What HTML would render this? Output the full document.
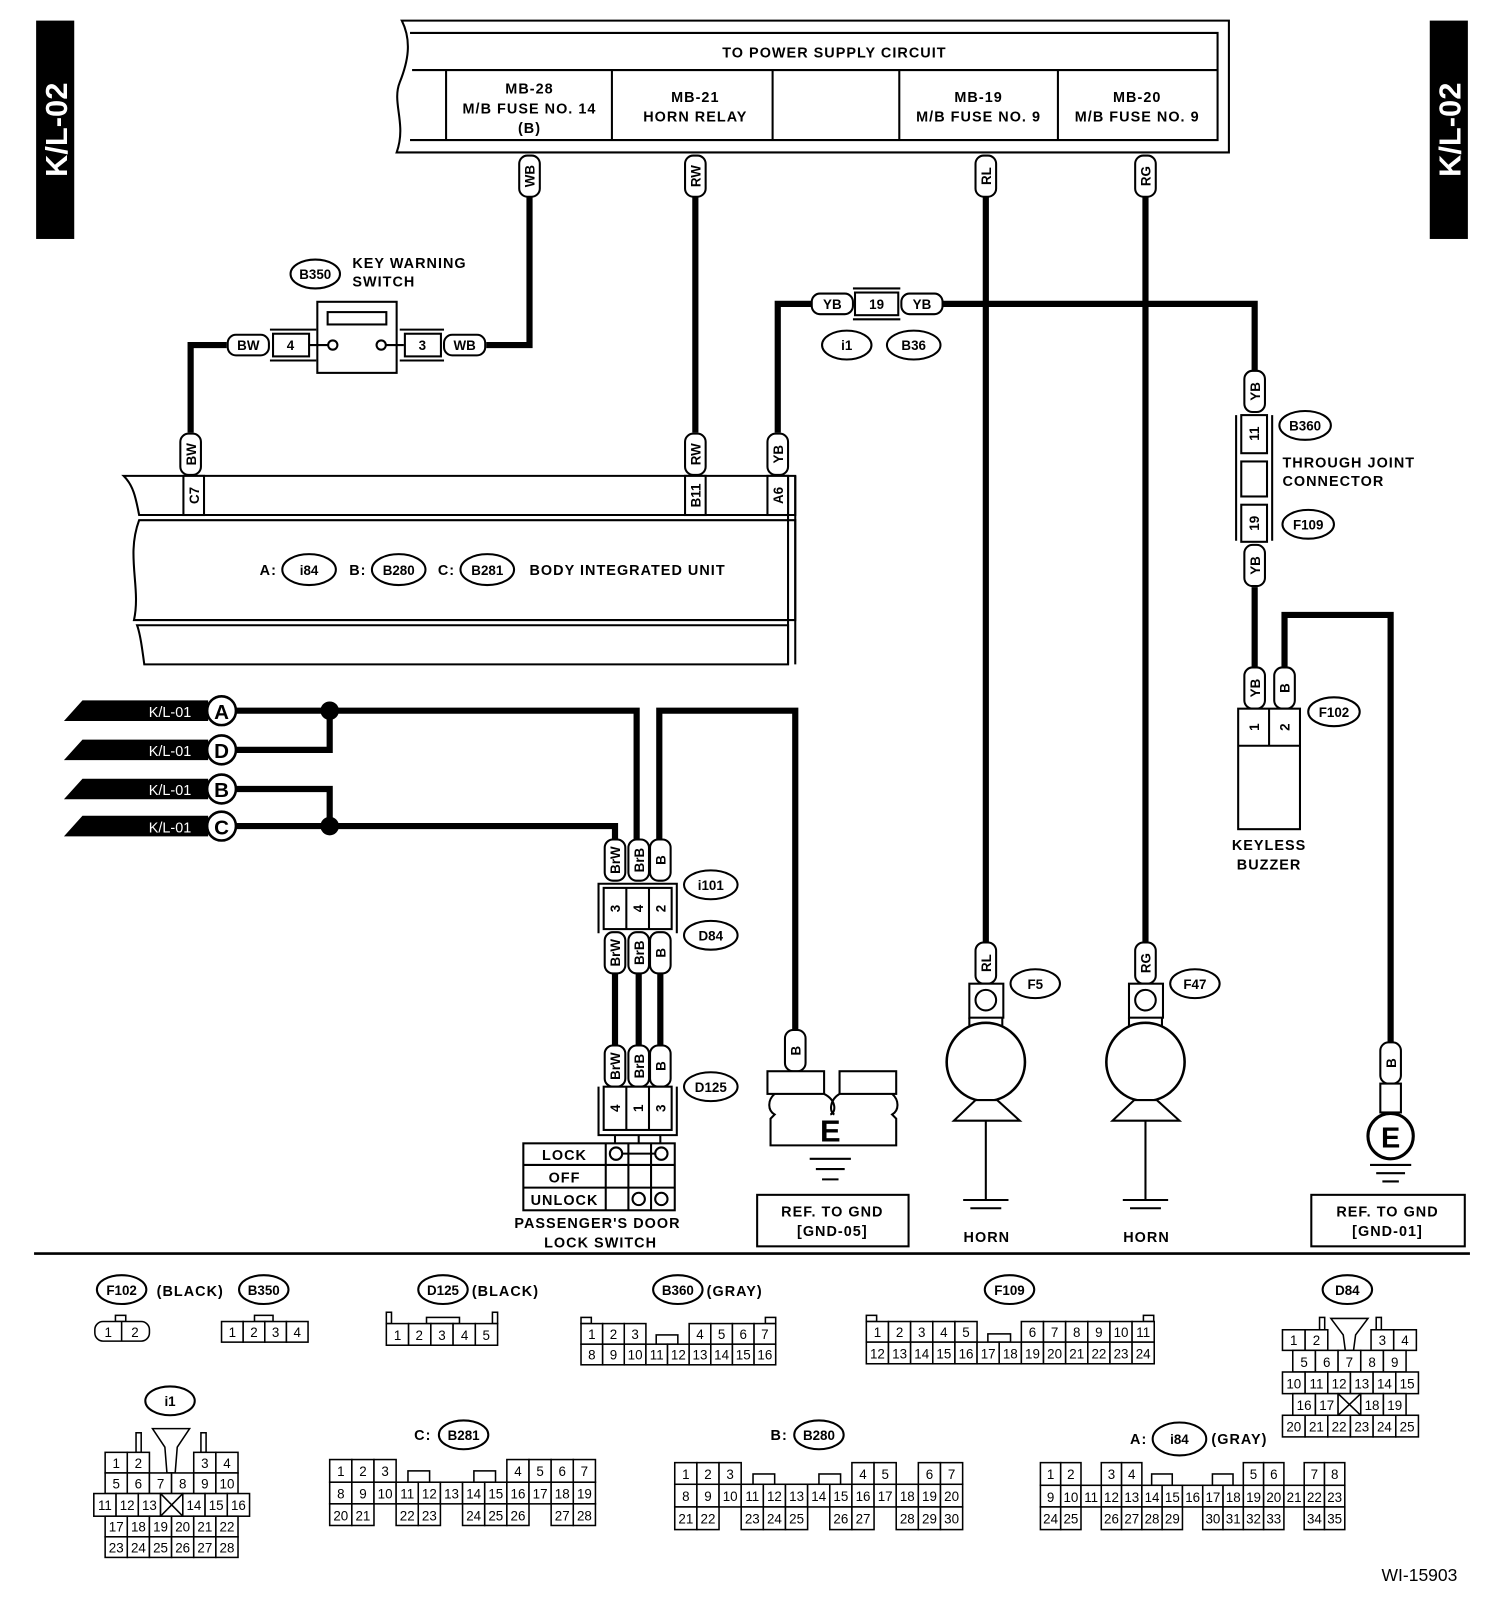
<!DOCTYPE html>
<html><head><meta charset="utf-8"><style>
html,body{margin:0;padding:0;background:#fff}
svg{display:block}
text{font-family:"Liberation Sans",sans-serif;font-weight:bold;fill:#000}
.c rect{fill:#fff;stroke:#000;stroke-width:1.5}
.c text{font-size:13px;font-weight:normal;text-anchor:middle}
.w{fill:none;stroke:#000;stroke-width:6}
.l{fill:none;stroke:#000;stroke-width:2}
.p rect{fill:#fff;stroke:#000;stroke-width:2}
.p text{font-size:13px;text-anchor:middle}
.o ellipse{fill:#fff;stroke:#000;stroke-width:2}
.o text{font-size:13px;text-anchor:middle}
.t{font-size:14px;letter-spacing:1px}
</style></head><body>
<svg width="1504" height="1612" viewBox="0 0 1460 1565" xmlns="http://www.w3.org/2000/svg">
<rect x="35" y="20" width="37" height="212" fill="#000"/>
<text transform="translate(65,126) rotate(-90)" text-anchor="middle" style="font-size:30px;fill:#fff">K/L-02</text>
<rect x="1388" y="20" width="37" height="212" fill="#000"/>
<text transform="translate(1418,126) rotate(-90)" text-anchor="middle" style="font-size:30px;fill:#fff">K/L-02</text>

<path class="l" d="M390,20 H1193 V148 H385 C395,120 380,100 388,80 C396,60 400,40 390,20 Z"/>
<path class="l" d="M398,32 H1182 V136 H398 M400,68 H1182 M433,68 V136 M594,68 V136 M750,68 V136 M873,68 V136 M1027,68 V136"/>
<text class="t" x="810" y="56" text-anchor="middle">TO POWER SUPPLY CIRCUIT</text>
<text class="t" x="514" y="91" text-anchor="middle">MB-28</text>
<text class="t" x="514" y="110" text-anchor="middle">M/B FUSE NO. 14</text>
<text class="t" x="514" y="129" text-anchor="middle">(B)</text>
<text class="t" x="675" y="99" text-anchor="middle">MB-21</text>
<text class="t" x="675" y="118" text-anchor="middle">HORN RELAY</text>
<text class="t" x="950" y="99" text-anchor="middle">MB-19</text>
<text class="t" x="950" y="118" text-anchor="middle">M/B FUSE NO. 9</text>
<text class="t" x="1104" y="99" text-anchor="middle">MB-20</text>
<text class="t" x="1104" y="118" text-anchor="middle">M/B FUSE NO. 9</text>

<path class="w" d="M514,190 V335 H472"/>
<path class="w" d="M220,335 H185 V420"/>
<path class="w" d="M675,190 V420"/>
<path class="w" d="M957,190 V915"/>
<path class="w" d="M1112,190 V915"/>
<path class="w" d="M755,420 V295 H788"/>
<path class="w" d="M915,295 H1218 V360"/>
<path class="w" d="M1218,570 V648"/>
<path class="w" d="M1247,648 V597 H1350 V1012"/>
<path class="w" d="M230,690 H618 V815"/>
<path class="w" d="M230,728 H320 V690"/>
<path class="w" d="M230,766 H320 V802"/>
<path class="w" d="M230,802 H597 V815"/>
<path class="w" d="M640,815 V690 H772 V1000"/>
<path class="w" d="M597,945 V1015 M620,945 V1015 M641,945 V1015"/>
<circle cx="320" cy="690" r="9"/><circle cx="320" cy="802" r="9"/>

<g class="p">
<g transform="translate(514,171) rotate(-90)"><rect x="-20" y="-10" width="40" height="20" rx="8"/><text y="5">WB</text></g>
<g transform="translate(675,171) rotate(-90)"><rect x="-20" y="-10" width="40" height="20" rx="8"/><text y="5">RW</text></g>
<g transform="translate(957,171) rotate(-90)"><rect x="-20" y="-10" width="40" height="20" rx="8"/><text y="5">RL</text></g>
<g transform="translate(1112,171) rotate(-90)"><rect x="-20" y="-10" width="40" height="20" rx="8"/><text y="5">RG</text></g>
<g transform="translate(185,441) rotate(-90)"><rect x="-20" y="-10" width="40" height="20" rx="8"/><text y="5">BW</text></g>
<g transform="translate(675,441) rotate(-90)"><rect x="-20" y="-10" width="40" height="20" rx="8"/><text y="5">RW</text></g>
<g transform="translate(755,441) rotate(-90)"><rect x="-20" y="-10" width="40" height="20" rx="8"/><text y="5">YB</text></g>
<g transform="translate(241,335)"><rect x="-20" y="-10" width="40" height="20" rx="8"/><text y="5">BW</text></g>
<g transform="translate(451,335)"><rect x="-20" y="-10" width="40" height="20" rx="8"/><text y="5">WB</text></g>
<g transform="translate(808,295)"><rect x="-20" y="-10" width="40" height="20" rx="8"/><text y="5">YB</text></g>
<g transform="translate(895,295)"><rect x="-20" y="-10" width="40" height="20" rx="8"/><text y="5">YB</text></g>
<g transform="translate(1218,380) rotate(-90)"><rect x="-20" y="-10" width="40" height="20" rx="8"/><text y="5">YB</text></g>
<g transform="translate(1218,549) rotate(-90)"><rect x="-20" y="-10" width="40" height="20" rx="8"/><text y="5">YB</text></g>
<g transform="translate(1218,668) rotate(-90)"><rect x="-20" y="-10" width="40" height="20" rx="8"/><text y="5">YB</text></g>
<g transform="translate(1247,668) rotate(-90)"><rect x="-20" y="-10" width="40" height="20" rx="8"/><text y="5">B</text></g>
<g transform="translate(597,835) rotate(-90)"><rect x="-20" y="-10" width="40" height="20" rx="8"/><text y="5">BrW</text></g>
<g transform="translate(620,835) rotate(-90)"><rect x="-20" y="-10" width="40" height="20" rx="8"/><text y="5">BrB</text></g>
<g transform="translate(641,835) rotate(-90)"><rect x="-20" y="-10" width="40" height="20" rx="8"/><text y="5">B</text></g>
<g transform="translate(597,925) rotate(-90)"><rect x="-20" y="-10" width="40" height="20" rx="8"/><text y="5">BrW</text></g>
<g transform="translate(620,925) rotate(-90)"><rect x="-20" y="-10" width="40" height="20" rx="8"/><text y="5">BrB</text></g>
<g transform="translate(641,925) rotate(-90)"><rect x="-20" y="-10" width="40" height="20" rx="8"/><text y="5">B</text></g>
<g transform="translate(597,1035) rotate(-90)"><rect x="-20" y="-10" width="40" height="20" rx="8"/><text y="5">BrW</text></g>
<g transform="translate(620,1035) rotate(-90)"><rect x="-20" y="-10" width="40" height="20" rx="8"/><text y="5">BrB</text></g>
<g transform="translate(641,1035) rotate(-90)"><rect x="-20" y="-10" width="40" height="20" rx="8"/><text y="5">B</text></g>
<g transform="translate(772,1020) rotate(-90)"><rect x="-20" y="-10" width="40" height="20" rx="8"/><text y="5">B</text></g>
<g transform="translate(957,935) rotate(-90)"><rect x="-20" y="-10" width="40" height="20" rx="8"/><text y="5">RL</text></g>
<g transform="translate(1112,935) rotate(-90)"><rect x="-20" y="-10" width="40" height="20" rx="8"/><text y="5">RG</text></g>
<g transform="translate(1350,1032) rotate(-90)"><rect x="-20" y="-10" width="40" height="20" rx="8"/><text y="5">B</text></g>
</g>

<g class="o">
<ellipse cx="306" cy="266" rx="24" ry="14"/><text x="306" y="271">B350</text>
<ellipse cx="822" cy="335" rx="24" ry="14"/><text x="822" y="340">i1</text>
<ellipse cx="887" cy="335" rx="26" ry="14"/><text x="887" y="340">B36</text>
<ellipse cx="1267" cy="413" rx="25" ry="14"/><text x="1267" y="418">B360</text>
<ellipse cx="1270" cy="509" rx="25" ry="14"/><text x="1270" y="514">F109</text>
<ellipse cx="1295" cy="691" rx="25" ry="14"/><text x="1295" y="696">F102</text>
<ellipse cx="300" cy="553" rx="26" ry="15"/><text x="300" y="558">i84</text>
<ellipse cx="387" cy="553" rx="26" ry="15"/><text x="387" y="558">B280</text>
<ellipse cx="473" cy="553" rx="26" ry="15"/><text x="473" y="558">B281</text>
<ellipse cx="690" cy="859" rx="26" ry="14"/><text x="690" y="864">i101</text>
<ellipse cx="690" cy="908" rx="26" ry="14"/><text x="690" y="913">D84</text>
<ellipse cx="690" cy="1055" rx="26" ry="14"/><text x="690" y="1060">D125</text>
<ellipse cx="1005" cy="955" rx="24" ry="14"/><text x="1005" y="960">F5</text>
<ellipse cx="1160" cy="955" rx="24" ry="14"/><text x="1160" y="960">F47</text>
</g>

<text class="t" x="342" y="260">KEY WARNING</text>
<text class="t" x="342" y="278">SWITCH</text>
<rect x="308" y="293" width="77" height="69" fill="#fff" stroke="#000" stroke-width="2"/>
<rect x="318" y="303" width="57" height="12" fill="#fff" stroke="#000" stroke-width="2"/>
<path class="l" d="M300,335 H319 M374,335 H392"/>
<circle cx="323" cy="335" r="4.5" fill="#fff" stroke="#000" stroke-width="2"/>
<circle cx="370" cy="335" r="4.5" fill="#fff" stroke="#000" stroke-width="2"/>
<rect x="265" y="324" width="35" height="22" fill="#fff" stroke="#000" stroke-width="2"/><text x="282" y="340" text-anchor="middle" style="font-size:13px">4</text>
<rect x="393" y="324" width="35" height="22" fill="#fff" stroke="#000" stroke-width="2"/><text x="410" y="340" text-anchor="middle" style="font-size:13px">3</text>
<path class="l" d="M262,320 H307 M262,350 H307 M388,320 H431 M388,350 H431"/>

<rect x="830" y="284" width="42" height="22" fill="#fff" stroke="#000" stroke-width="2"/><text x="851" y="300" text-anchor="middle" style="font-size:13px">19</text>
<path class="l" d="M828,280 H874 M828,310 H874"/>

<path class="l" d="M120,462 H772 V500 H135 C132,485 130,472 120,462 Z"/>
<path class="l" d="M135,505 H772 V602 H130 C137,570 122,540 135,505 Z"/>
<path class="l" d="M133,607 H765 V645 H140 C138,630 136,615 133,607 Z"/>
<path class="l" d="M765,462 V645 M772,462 V645"/>
<rect x="178" y="462" width="20" height="38" fill="#fff" stroke="#000" stroke-width="2"/><text transform="translate(193,481) rotate(-90)" text-anchor="middle" style="font-size:13px">C7</text>
<rect x="665" y="462" width="20" height="38" fill="#fff" stroke="#000" stroke-width="2"/><text transform="translate(680,481) rotate(-90)" text-anchor="middle" style="font-size:13px">B11</text>
<rect x="745" y="462" width="20" height="38" fill="#fff" stroke="#000" stroke-width="2"/><text transform="translate(760,481) rotate(-90)" text-anchor="middle" style="font-size:13px">A6</text>
<text class="t" x="252" y="558">A:</text>
<text class="t" x="339" y="558">B:</text>
<text class="t" x="425" y="558">C:</text>
<text class="t" x="514" y="558">BODY INTEGRATED UNIT</text>

<path class="l" d="M1200,403 V525 M1235,403 V525"/>
<rect x="1205" y="403" width="25" height="37" fill="#fff" stroke="#000" stroke-width="2"/><text transform="translate(1222,421) rotate(-90)" text-anchor="middle" style="font-size:13px">11</text>
<rect x="1205" y="448" width="25" height="34" fill="#fff" stroke="#000" stroke-width="2"/>
<rect x="1205" y="490" width="25" height="36" fill="#fff" stroke="#000" stroke-width="2"/><text transform="translate(1222,508) rotate(-90)" text-anchor="middle" style="font-size:13px">19</text>
<text class="t" x="1245" y="454">THROUGH JOINT</text>
<text class="t" x="1245" y="472">CONNECTOR</text>

<rect x="1202" y="688" width="60" height="117" fill="#fff" stroke="#000" stroke-width="2"/>
<path class="l" d="M1202,724 H1262 M1232,688 V724"/>
<text transform="translate(1222,706) rotate(-90)" text-anchor="middle" style="font-size:13px">1</text>
<text transform="translate(1252,706) rotate(-90)" text-anchor="middle" style="font-size:13px">2</text>
<text class="t" x="1232" y="825" text-anchor="middle">KEYLESS</text>
<text class="t" x="1232" y="844" text-anchor="middle">BUZZER</text>

<g>
<polygon points="62,700 80,680 202,680 202,700"/><text x="165" y="696" text-anchor="middle" style="font-size:14px;fill:#fff;font-weight:normal">K/L-01</text>
<circle cx="215" cy="690" r="14" fill="#fff" stroke="#000" stroke-width="2.5"/><text x="215" y="698" text-anchor="middle" style="font-size:20px">A</text>
<polygon points="62,738 80,718 202,718 202,738"/><text x="165" y="734" text-anchor="middle" style="font-size:14px;fill:#fff;font-weight:normal">K/L-01</text>
<circle cx="215" cy="728" r="14" fill="#fff" stroke="#000" stroke-width="2.5"/><text x="215" y="736" text-anchor="middle" style="font-size:20px">D</text>
<polygon points="62,776 80,756 202,756 202,776"/><text x="165" y="772" text-anchor="middle" style="font-size:14px;fill:#fff;font-weight:normal">K/L-01</text>
<circle cx="215" cy="766" r="14" fill="#fff" stroke="#000" stroke-width="2.5"/><text x="215" y="774" text-anchor="middle" style="font-size:20px">B</text>
<polygon points="62,812 80,792 202,792 202,812"/><text x="165" y="808" text-anchor="middle" style="font-size:14px;fill:#fff;font-weight:normal">K/L-01</text>
<circle cx="215" cy="802" r="14" fill="#fff" stroke="#000" stroke-width="2.5"/><text x="215" y="810" text-anchor="middle" style="font-size:20px">C</text>
</g>

<path class="l" d="M581,906 V858 H657 V906"/>
<rect x="586" y="862" width="66" height="40" fill="#fff" stroke="#000" stroke-width="2"/>
<path class="l" d="M608,862 V902 M630,862 V902"/>
<text transform="translate(602,882) rotate(-90)" text-anchor="middle" style="font-size:13px">3</text>
<text transform="translate(624,882) rotate(-90)" text-anchor="middle" style="font-size:13px">4</text>
<text transform="translate(646,882) rotate(-90)" text-anchor="middle" style="font-size:13px">2</text>
<path class="l" d="M581,1055 V1102 H657 V1055"/>
<rect x="586" y="1055" width="66" height="42" fill="#fff" stroke="#000" stroke-width="2"/>
<path class="l" d="M608,1055 V1097 M630,1055 V1097"/>
<text transform="translate(602,1076) rotate(-90)" text-anchor="middle" style="font-size:13px">4</text>
<text transform="translate(624,1076) rotate(-90)" text-anchor="middle" style="font-size:13px">1</text>
<text transform="translate(646,1076) rotate(-90)" text-anchor="middle" style="font-size:13px">3</text>
<path class="l" d="M597,1102 V1115 M620,1102 V1110 M641,1102 V1115"/>
<rect x="508" y="1110" width="147" height="65" fill="#fff" stroke="#000" stroke-width="2"/>
<path class="l" d="M508,1131 H655 M508,1153 H655 M588,1110 V1175 M610,1110 V1175 M632,1110 V1175"/>
<text class="t" x="548" y="1126" text-anchor="middle">LOCK</text>
<text class="t" x="548" y="1148" text-anchor="middle">OFF</text>
<text class="t" x="548" y="1170" text-anchor="middle">UNLOCK</text>
<path class="l" d="M603,1120 H637"/>
<circle cx="598" cy="1120" r="6" fill="#fff" stroke="#000" stroke-width="2"/><circle cx="642" cy="1120" r="6" fill="#fff" stroke="#000" stroke-width="2"/>
<circle cx="620" cy="1164" r="6" fill="#fff" stroke="#000" stroke-width="2"/><circle cx="642" cy="1164" r="6" fill="#fff" stroke="#000" stroke-width="2"/>
<text class="t" x="580" y="1192" text-anchor="middle">PASSENGER'S DOOR</text>
<text class="t" x="583" y="1211" text-anchor="middle">LOCK SWITCH</text>

<rect x="745" y="1040" width="55" height="22" fill="#fff" stroke="#000" stroke-width="2"/>
<rect x="815" y="1040" width="55" height="22" fill="#fff" stroke="#000" stroke-width="2"/>
<path class="l" d="M752,1062 C745,1068 745,1078 752,1082 L748,1086 V1112 H870 V1086 L866,1082 C873,1078 873,1068 866,1062 M800,1062 C812,1068 812,1080 806,1082 M815,1062 C805,1068 805,1080 810,1082"/>
<text x="806" y="1108" text-anchor="middle" style="font-size:30px">E</text>
<path class="l" d="M786,1125 H826 M792,1135 H820 M798,1145 H814"/>
<rect x="735" y="1160" width="147" height="50" fill="#fff" stroke="#000" stroke-width="2"/>
<text class="t" x="808" y="1181" text-anchor="middle">REF. TO GND</text>
<text class="t" x="808" y="1200" text-anchor="middle">[GND-05]</text>

<g>
<rect x="941" y="955" width="33" height="33" fill="#fff" stroke="#000" stroke-width="2"/><circle cx="957" cy="971" r="10" fill="#fff" stroke="#000" stroke-width="2"/>
<path class="l" d="M941,988 V996 M973,988 V996"/>
<circle cx="957" cy="1031" r="38" fill="#fff" stroke="#000" stroke-width="2.5"/>
<polygon points="947,1068 926,1088 990,1088 968,1068" fill="#fff" stroke="#000" stroke-width="2"/>
<path class="l" d="M957,1088 V1165 M935,1165 H979 M942,1173 H972"/>
<text class="t" x="958" y="1206" text-anchor="middle">HORN</text>
</g>
<g>
<rect x="1096" y="955" width="33" height="33" fill="#fff" stroke="#000" stroke-width="2"/><circle cx="1112" cy="971" r="10" fill="#fff" stroke="#000" stroke-width="2"/>
<path class="l" d="M1096,988 V996 M1128,988 V996"/>
<circle cx="1112" cy="1031" r="38" fill="#fff" stroke="#000" stroke-width="2.5"/>
<polygon points="1101,1068 1080,1088 1145,1088 1123,1068" fill="#fff" stroke="#000" stroke-width="2"/>
<path class="l" d="M1112,1088 V1165 M1090,1165 H1134 M1097,1173 H1127"/>
<text class="t" x="1113" y="1206" text-anchor="middle">HORN</text>
</g>

<rect x="1340" y="1052" width="20" height="28" fill="#fff" stroke="#000" stroke-width="2"/>
<circle cx="1350" cy="1103" r="22" fill="#fff" stroke="#000" stroke-width="3"/>
<text x="1350" y="1114" text-anchor="middle" style="font-size:28px">E</text>
<path class="l" d="M1330,1131 H1370 M1336,1139 H1364 M1342,1147 H1358"/>
<rect x="1273" y="1160" width="149" height="50" fill="#fff" stroke="#000" stroke-width="2"/>
<text class="t" x="1347" y="1181" text-anchor="middle">REF. TO GND</text>
<text class="t" x="1347" y="1200" text-anchor="middle">[GND-01]</text>

<path d="M33,1217 H1427" stroke="#000" stroke-width="2.5"/>

<g class="o">
<ellipse cx="118" cy="1252" rx="24" ry="14"/><text x="118" y="1257">F102</text>
<ellipse cx="256" cy="1252" rx="24" ry="14"/><text x="256" y="1257">B350</text>
<ellipse cx="430" cy="1252" rx="24" ry="14"/><text x="430" y="1257">D125</text>
<ellipse cx="658" cy="1252" rx="24" ry="14"/><text x="658" y="1257">B360</text>
<ellipse cx="980" cy="1252" rx="24" ry="14"/><text x="980" y="1257">F109</text>
<ellipse cx="1308" cy="1252" rx="24" ry="14"/><text x="1308" y="1257">D84</text>
<ellipse cx="165" cy="1360" rx="24" ry="14"/><text x="165" y="1365">i1</text>
<ellipse cx="450" cy="1393" rx="24" ry="14"/><text x="450" y="1398">B281</text>
<ellipse cx="795" cy="1393" rx="24" ry="14"/><text x="795" y="1398">B280</text>
<ellipse cx="1145" cy="1397" rx="26" ry="16"/><text x="1145" y="1402">i84</text>
</g>
<text class="t" x="152" y="1258">(BLACK)</text>
<text class="t" x="458" y="1258">(BLACK)</text>
<text class="t" x="686" y="1258">(GRAY)</text>
<text class="t" x="1176" y="1402">(GRAY)</text>
<text class="t" x="402" y="1398">C:</text>
<text class="t" x="748" y="1398">B:</text>
<text class="t" x="1097" y="1402">A:</text>
<text x="1378" y="1535" text-anchor="middle" style="font-size:17px;font-weight:normal">WI-15903</text>

<g class="c">
<rect x="112" y="1277" width="10" height="6"/>
<rect x="92" y="1283" width="53" height="19" rx="8"/><path class="l" d="M118,1283 V1302" style="stroke-width:1.5"/>
<text x="105" y="1298">1</text><text x="131" y="1298">2</text>
<rect x="247" y="1277" width="18" height="6"/>
<rect x="215" y="1283" width="21" height="20"/><rect x="236" y="1283" width="21" height="20"/><rect x="257" y="1283" width="21" height="20"/><rect x="278" y="1283" width="21" height="20"/>
<text x="225.5" y="1298">1</text><text x="246.5" y="1298">2</text><text x="267.5" y="1298">3</text><text x="288.5" y="1298">4</text>
<rect x="375" y="1274" width="5" height="11"/><rect x="478" y="1274" width="5" height="11"/><rect x="414" y="1279" width="32" height="6"/>
<rect x="375" y="1285" width="21.6" height="21"/><rect x="396.6" y="1285" width="21.6" height="21"/><rect x="418.2" y="1285" width="21.6" height="21"/><rect x="439.8" y="1285" width="21.6" height="21"/><rect x="461.4" y="1285" width="21.6" height="21"/>
<text x="386" y="1301">1</text><text x="407" y="1301">2</text><text x="429" y="1301">3</text><text x="451" y="1301">4</text><text x="472" y="1301">5</text>
<rect x="564" y="1279" width="10" height="6"/><rect x="743" y="1279" width="10" height="6"/><rect x="637" y="1296" width="21" height="9"/>
<rect x="564" y="1285" width="21" height="20"/><rect x="585" y="1285" width="21" height="20"/><rect x="606" y="1285" width="21" height="20"/>
<rect x="669" y="1285" width="21" height="20"/><rect x="690" y="1285" width="21" height="20"/><rect x="711" y="1285" width="21" height="20"/><rect x="732" y="1285" width="21" height="20"/>
<text x="574.5" y="1300">1</text><text x="595.5" y="1300">2</text><text x="616.5" y="1300">3</text><text x="679.5" y="1300">4</text><text x="700.5" y="1300">5</text><text x="721.5" y="1300">6</text><text x="742.5" y="1300">7</text>
<rect x="564" y="1305" width="21" height="20"/><rect x="585" y="1305" width="21" height="20"/><rect x="606" y="1305" width="21" height="20"/><rect x="627" y="1305" width="21" height="20"/><rect x="648" y="1305" width="21" height="20"/><rect x="669" y="1305" width="21" height="20"/><rect x="690" y="1305" width="21" height="20"/><rect x="711" y="1305" width="21" height="20"/><rect x="732" y="1305" width="21" height="20"/>
<text x="574.5" y="1320">8</text><text x="595.5" y="1320">9</text><text x="616.5" y="1320">10</text><text x="637.5" y="1320">11</text><text x="658.5" y="1320">12</text><text x="679.5" y="1320">13</text><text x="700.5" y="1320">14</text><text x="721.5" y="1320">15</text><text x="742.5" y="1320">16</text>
<rect x="841" y="1277" width="10" height="6"/><rect x="1110" y="1277" width="10" height="6"/><rect x="959" y="1295" width="22" height="8"/>
<rect x="841" y="1283" width="21.5" height="20"/><rect x="862.5" y="1283" width="21.5" height="20"/><rect x="884" y="1283" width="21.5" height="20"/><rect x="905.5" y="1283" width="21.5" height="20"/><rect x="927" y="1283" width="21.5" height="20"/>
<rect x="991.5" y="1283" width="21.5" height="20"/><rect x="1013" y="1283" width="21.5" height="20"/><rect x="1034.5" y="1283" width="21.5" height="20"/><rect x="1056" y="1283" width="21.5" height="20"/><rect x="1077.5" y="1283" width="21.5" height="20"/><rect x="1099" y="1283" width="21.5" height="20"/>
<text x="851.8" y="1298">1</text><text x="873.3" y="1298">2</text><text x="894.8" y="1298">3</text><text x="916.3" y="1298">4</text><text x="937.8" y="1298">5</text>
<text x="1002.3" y="1298">6</text><text x="1023.8" y="1298">7</text><text x="1045.3" y="1298">8</text><text x="1066.8" y="1298">9</text><text x="1088.3" y="1298">10</text><text x="1109.8" y="1298">11</text>
<rect x="841" y="1303" width="21.5" height="21"/><rect x="862.5" y="1303" width="21.5" height="21"/><rect x="884" y="1303" width="21.5" height="21"/><rect x="905.5" y="1303" width="21.5" height="21"/><rect x="927" y="1303" width="21.5" height="21"/><rect x="948.5" y="1303" width="21.5" height="21"/><rect x="970" y="1303" width="21.5" height="21"/><rect x="991.5" y="1303" width="21.5" height="21"/><rect x="1013" y="1303" width="21.5" height="21"/><rect x="1034.5" y="1303" width="21.5" height="21"/><rect x="1056" y="1303" width="21.5" height="21"/><rect x="1077.5" y="1303" width="21.5" height="21"/><rect x="1099" y="1303" width="21.5" height="21"/>
<text x="851.8" y="1319">12</text><text x="873.3" y="1319">13</text><text x="894.8" y="1319">14</text><text x="916.3" y="1319">15</text><text x="937.8" y="1319">16</text><text x="959.3" y="1319">17</text><text x="980.8" y="1319">18</text><text x="1002.3" y="1319">19</text><text x="1023.8" y="1319">20</text><text x="1045.3" y="1319">21</text><text x="1066.8" y="1319">22</text><text x="1088.3" y="1319">23</text><text x="1109.8" y="1319">24</text>
<rect x="1281" y="1279" width="5" height="12"/><rect x="1336" y="1279" width="5" height="12"/>
<polygon points="1292,1280 1328,1280 1316,1296 1314,1311 1306,1311 1304,1296" style="fill:#fff;stroke:#000;stroke-width:1.5"/>
<rect x="1245" y="1291" width="22" height="20"/><rect x="1267" y="1291" width="22" height="20"/><rect x="1331" y="1291" width="22" height="20"/><rect x="1353" y="1291" width="22" height="20"/>
<text x="1256" y="1306">1</text><text x="1278" y="1306">2</text><text x="1342" y="1306">3</text><text x="1364" y="1306">4</text>
<rect x="1255" y="1311" width="22" height="21"/><rect x="1277" y="1311" width="22" height="21"/><rect x="1299" y="1311" width="22" height="21"/><rect x="1321" y="1311" width="22" height="21"/><rect x="1343" y="1311" width="22" height="21"/>
<text x="1266" y="1327">5</text><text x="1288" y="1327">6</text><text x="1310" y="1327">7</text><text x="1332" y="1327">8</text><text x="1354" y="1327">9</text>
<rect x="1245" y="1332" width="22" height="21"/><rect x="1267" y="1332" width="22" height="21"/><rect x="1289" y="1332" width="22" height="21"/><rect x="1311" y="1332" width="22" height="21"/><rect x="1333" y="1332" width="22" height="21"/><rect x="1355" y="1332" width="22" height="21"/>
<text x="1256" y="1348">10</text><text x="1278" y="1348">11</text><text x="1300" y="1348">12</text><text x="1322" y="1348">13</text><text x="1344" y="1348">14</text><text x="1366" y="1348">15</text>
<rect x="1255" y="1353" width="22" height="21"/><rect x="1277" y="1353" width="22" height="21"/><rect x="1299" y="1353" width="22" height="21"/><rect x="1321" y="1353" width="22" height="21"/><rect x="1343" y="1353" width="22" height="21"/>
<path d="M1299,1353 L1321,1374 M1321,1353 L1299,1374" stroke="#000" stroke-width="1.5"/>
<text x="1266" y="1369">16</text><text x="1288" y="1369">17</text><text x="1332" y="1369">18</text><text x="1354" y="1369">19</text>
<rect x="1245" y="1374" width="22" height="21"/><rect x="1267" y="1374" width="22" height="21"/><rect x="1289" y="1374" width="22" height="21"/><rect x="1311" y="1374" width="22" height="21"/><rect x="1333" y="1374" width="22" height="21"/><rect x="1355" y="1374" width="22" height="21"/>
<text x="1256" y="1390">20</text><text x="1278" y="1390">21</text><text x="1300" y="1390">22</text><text x="1322" y="1390">23</text><text x="1344" y="1390">24</text><text x="1366" y="1390">25</text>
<rect x="132" y="1391" width="5" height="19"/><rect x="195" y="1391" width="5" height="19"/>
<polygon points="148,1387 184,1387 172,1405 170,1430 162,1430 160,1405" style="fill:#fff;stroke:#000;stroke-width:1.5"/>
<rect x="102" y="1410" width="21.5" height="20"/><rect x="123.5" y="1410" width="21.5" height="20"/><rect x="188" y="1410" width="21.5" height="20"/><rect x="209.5" y="1410" width="21.5" height="20"/>
<text x="112.8" y="1425">1</text><text x="134.3" y="1425">2</text><text x="198.8" y="1425">3</text><text x="220.3" y="1425">4</text>
<rect x="102" y="1430" width="21.5" height="20"/><rect x="123.5" y="1430" width="21.5" height="20"/><rect x="145" y="1430" width="21.5" height="20"/><rect x="166.5" y="1430" width="21.5" height="20"/><rect x="188" y="1430" width="21.5" height="20"/><rect x="209.5" y="1430" width="21.5" height="20"/>
<text x="112.8" y="1445">5</text><text x="134.3" y="1445">6</text><text x="155.8" y="1445">7</text><text x="177.3" y="1445">8</text><text x="198.8" y="1445">9</text><text x="220.3" y="1445">10</text>
<rect x="91" y="1450" width="21.6" height="22"/><rect x="112.6" y="1450" width="21.6" height="22"/><rect x="134.2" y="1450" width="21.6" height="22"/><rect x="155.8" y="1450" width="21.6" height="22"/><rect x="177.4" y="1450" width="21.6" height="22"/><rect x="199" y="1450" width="21.6" height="22"/><rect x="220.6" y="1450" width="21.6" height="22"/>
<path d="M155.8,1450 L177.4,1472 M177.4,1450 L155.8,1472" stroke="#000" stroke-width="1.5"/>
<text x="101.8" y="1466">11</text><text x="123.4" y="1466">12</text><text x="145" y="1466">13</text><text x="188.2" y="1466">14</text><text x="209.8" y="1466">15</text><text x="231.4" y="1466">16</text>
<rect x="102" y="1472" width="21.5" height="20"/><rect x="123.5" y="1472" width="21.5" height="20"/><rect x="145" y="1472" width="21.5" height="20"/><rect x="166.5" y="1472" width="21.5" height="20"/><rect x="188" y="1472" width="21.5" height="20"/><rect x="209.5" y="1472" width="21.5" height="20"/>
<text x="112.8" y="1487">17</text><text x="134.3" y="1487">18</text><text x="155.8" y="1487">19</text><text x="177.3" y="1487">20</text><text x="198.8" y="1487">21</text><text x="220.3" y="1487">22</text>
<rect x="102" y="1492" width="21.5" height="20"/><rect x="123.5" y="1492" width="21.5" height="20"/><rect x="145" y="1492" width="21.5" height="20"/><rect x="166.5" y="1492" width="21.5" height="20"/><rect x="188" y="1492" width="21.5" height="20"/><rect x="209.5" y="1492" width="21.5" height="20"/>
<text x="112.8" y="1507">23</text><text x="134.3" y="1507">24</text><text x="155.8" y="1507">25</text><text x="177.3" y="1507">26</text><text x="198.8" y="1507">27</text><text x="220.3" y="1507">28</text>
<rect x="396" y="1428" width="21" height="11"/><rect x="460" y="1428" width="21" height="11"/>
<rect x="320" y="1417" width="21.5" height="22"/><rect x="341.5" y="1417" width="21.5" height="22"/><rect x="363" y="1417" width="21.5" height="22"/>
<rect x="492" y="1417" width="21.5" height="22"/><rect x="513.5" y="1417" width="21.5" height="22"/><rect x="535" y="1417" width="21.5" height="22"/><rect x="556.5" y="1417" width="21.5" height="22"/>
<text x="330.8" y="1433">1</text><text x="352.3" y="1433">2</text><text x="373.8" y="1433">3</text><text x="502.8" y="1433">4</text><text x="524.3" y="1433">5</text><text x="545.8" y="1433">6</text><text x="567.3" y="1433">7</text>
<rect x="320" y="1439" width="21.5" height="21"/><rect x="341.5" y="1439" width="21.5" height="21"/><rect x="363" y="1439" width="21.5" height="21"/><rect x="384.5" y="1439" width="21.5" height="21"/><rect x="406" y="1439" width="21.5" height="21"/><rect x="427.5" y="1439" width="21.5" height="21"/><rect x="449" y="1439" width="21.5" height="21"/><rect x="470.5" y="1439" width="21.5" height="21"/><rect x="492" y="1439" width="21.5" height="21"/><rect x="513.5" y="1439" width="21.5" height="21"/><rect x="535" y="1439" width="21.5" height="21"/><rect x="556.5" y="1439" width="21.5" height="21"/>
<text x="330.8" y="1455">8</text><text x="352.3" y="1455">9</text><text x="373.8" y="1455">10</text><text x="395.3" y="1455">11</text><text x="416.8" y="1455">12</text><text x="438.3" y="1455">13</text><text x="459.8" y="1455">14</text><text x="481.3" y="1455">15</text><text x="502.8" y="1455">16</text><text x="524.3" y="1455">17</text><text x="545.8" y="1455">18</text><text x="567.3" y="1455">19</text>
<rect x="320" y="1460" width="21.5" height="21"/><rect x="341.5" y="1460" width="21.5" height="21"/><rect x="384.5" y="1460" width="21.5" height="21"/><rect x="406" y="1460" width="21.5" height="21"/><rect x="449" y="1460" width="21.5" height="21"/><rect x="470.5" y="1460" width="21.5" height="21"/><rect x="492" y="1460" width="21.5" height="21"/><rect x="535" y="1460" width="21.5" height="21"/><rect x="556.5" y="1460" width="21.5" height="21"/>
<text x="330.8" y="1476">20</text><text x="352.3" y="1476">21</text><text x="395.3" y="1476">22</text><text x="416.8" y="1476">23</text><text x="459.8" y="1476">24</text><text x="481.3" y="1476">25</text><text x="502.8" y="1476">26</text><text x="545.8" y="1476">27</text><text x="567.3" y="1476">28</text>
<rect x="731" y="1431" width="21" height="10"/><rect x="795" y="1431" width="21" height="10"/>
<rect x="655" y="1420" width="21.5" height="21"/><rect x="676.5" y="1420" width="21.5" height="21"/><rect x="698" y="1420" width="21.5" height="21"/>
<rect x="827" y="1420" width="21.5" height="21"/><rect x="848.5" y="1420" width="21.5" height="21"/><rect x="891.5" y="1420" width="21.5" height="21"/><rect x="913" y="1420" width="21.5" height="21"/>
<text x="665.8" y="1436">1</text><text x="687.3" y="1436">2</text><text x="708.8" y="1436">3</text><text x="837.8" y="1436">4</text><text x="859.3" y="1436">5</text><text x="902.3" y="1436">6</text><text x="923.8" y="1436">7</text>
<rect x="655" y="1441" width="21.5" height="22"/><rect x="676.5" y="1441" width="21.5" height="22"/><rect x="698" y="1441" width="21.5" height="22"/><rect x="719.5" y="1441" width="21.5" height="22"/><rect x="741" y="1441" width="21.5" height="22"/><rect x="762.5" y="1441" width="21.5" height="22"/><rect x="784" y="1441" width="21.5" height="22"/><rect x="805.5" y="1441" width="21.5" height="22"/><rect x="827" y="1441" width="21.5" height="22"/><rect x="848.5" y="1441" width="21.5" height="22"/><rect x="870" y="1441" width="21.5" height="22"/><rect x="891.5" y="1441" width="21.5" height="22"/><rect x="913" y="1441" width="21.5" height="22"/>
<text x="665.8" y="1457">8</text><text x="687.3" y="1457">9</text><text x="708.8" y="1457">10</text><text x="730.3" y="1457">11</text><text x="751.8" y="1457">12</text><text x="773.3" y="1457">13</text><text x="794.8" y="1457">14</text><text x="816.3" y="1457">15</text><text x="837.8" y="1457">16</text><text x="859.3" y="1457">17</text><text x="880.8" y="1457">18</text><text x="902.3" y="1457">19</text><text x="923.8" y="1457">20</text>
<rect x="655" y="1463" width="21.5" height="22"/><rect x="676.5" y="1463" width="21.5" height="22"/><rect x="719.5" y="1463" width="21.5" height="22"/><rect x="741" y="1463" width="21.5" height="22"/><rect x="762.5" y="1463" width="21.5" height="22"/><rect x="805.5" y="1463" width="21.5" height="22"/><rect x="827" y="1463" width="21.5" height="22"/><rect x="870" y="1463" width="21.5" height="22"/><rect x="891.5" y="1463" width="21.5" height="22"/><rect x="913" y="1463" width="21.5" height="22"/>
<text x="665.8" y="1479">21</text><text x="687.3" y="1479">22</text><text x="730.3" y="1479">23</text><text x="751.8" y="1479">24</text><text x="773.3" y="1479">25</text><text x="816.3" y="1479">26</text><text x="837.8" y="1479">27</text><text x="880.8" y="1479">28</text><text x="902.3" y="1479">29</text><text x="923.8" y="1479">30</text>
<rect x="1118" y="1431" width="20" height="11"/><rect x="1177" y="1431" width="20" height="11"/>
<rect x="1010" y="1420" width="19.7" height="22"/><rect x="1029.7" y="1420" width="19.7" height="22"/><rect x="1069.1" y="1420" width="19.7" height="22"/><rect x="1088.8" y="1420" width="19.7" height="22"/>
<rect x="1207" y="1420" width="19.7" height="22"/><rect x="1226.7" y="1420" width="19.7" height="22"/><rect x="1266.1" y="1420" width="19.7" height="22"/><rect x="1285.8" y="1420" width="19.7" height="22"/>
<text x="1019.9" y="1436">1</text><text x="1039.6" y="1436">2</text><text x="1079" y="1436">3</text><text x="1098.7" y="1436">4</text><text x="1216.9" y="1436">5</text><text x="1236.6" y="1436">6</text><text x="1276" y="1436">7</text><text x="1295.7" y="1436">8</text>
<rect x="1010" y="1442" width="19.7" height="21"/><rect x="1029.7" y="1442" width="19.7" height="21"/><rect x="1049.4" y="1442" width="19.7" height="21"/><rect x="1069.1" y="1442" width="19.7" height="21"/><rect x="1088.8" y="1442" width="19.7" height="21"/><rect x="1108.5" y="1442" width="19.7" height="21"/><rect x="1128.2" y="1442" width="19.7" height="21"/><rect x="1147.9" y="1442" width="19.7" height="21"/><rect x="1167.6" y="1442" width="19.7" height="21"/><rect x="1187.3" y="1442" width="19.7" height="21"/><rect x="1207" y="1442" width="19.7" height="21"/><rect x="1226.7" y="1442" width="19.7" height="21"/><rect x="1246.4" y="1442" width="19.7" height="21"/><rect x="1266.1" y="1442" width="19.7" height="21"/><rect x="1285.8" y="1442" width="19.7" height="21"/>
<text x="1019.9" y="1458">9</text><text x="1039.6" y="1458">10</text><text x="1059.3" y="1458">11</text><text x="1079" y="1458">12</text><text x="1098.7" y="1458">13</text><text x="1118.4" y="1458">14</text><text x="1138.1" y="1458">15</text><text x="1157.8" y="1458">16</text><text x="1177.5" y="1458">17</text><text x="1197.2" y="1458">18</text><text x="1216.9" y="1458">19</text><text x="1236.6" y="1458">20</text><text x="1256.3" y="1458">21</text><text x="1276" y="1458">22</text><text x="1295.7" y="1458">23</text>
<rect x="1010" y="1463" width="19.7" height="22"/><rect x="1029.7" y="1463" width="19.7" height="22"/><rect x="1069.1" y="1463" width="19.7" height="22"/><rect x="1088.8" y="1463" width="19.7" height="22"/><rect x="1108.5" y="1463" width="19.7" height="22"/><rect x="1128.2" y="1463" width="19.7" height="22"/><rect x="1167.6" y="1463" width="19.7" height="22"/><rect x="1187.3" y="1463" width="19.7" height="22"/><rect x="1207" y="1463" width="19.7" height="22"/><rect x="1226.7" y="1463" width="19.7" height="22"/><rect x="1266.1" y="1463" width="19.7" height="22"/><rect x="1285.8" y="1463" width="19.7" height="22"/>
<text x="1019.9" y="1479">24</text><text x="1039.6" y="1479">25</text><text x="1079" y="1479">26</text><text x="1098.7" y="1479">27</text><text x="1118.4" y="1479">28</text><text x="1138.1" y="1479">29</text><text x="1177.5" y="1479">30</text><text x="1197.2" y="1479">31</text><text x="1216.9" y="1479">32</text><text x="1236.6" y="1479">33</text><text x="1276" y="1479">34</text><text x="1295.7" y="1479">35</text>
</g>
</svg>
</body></html>
